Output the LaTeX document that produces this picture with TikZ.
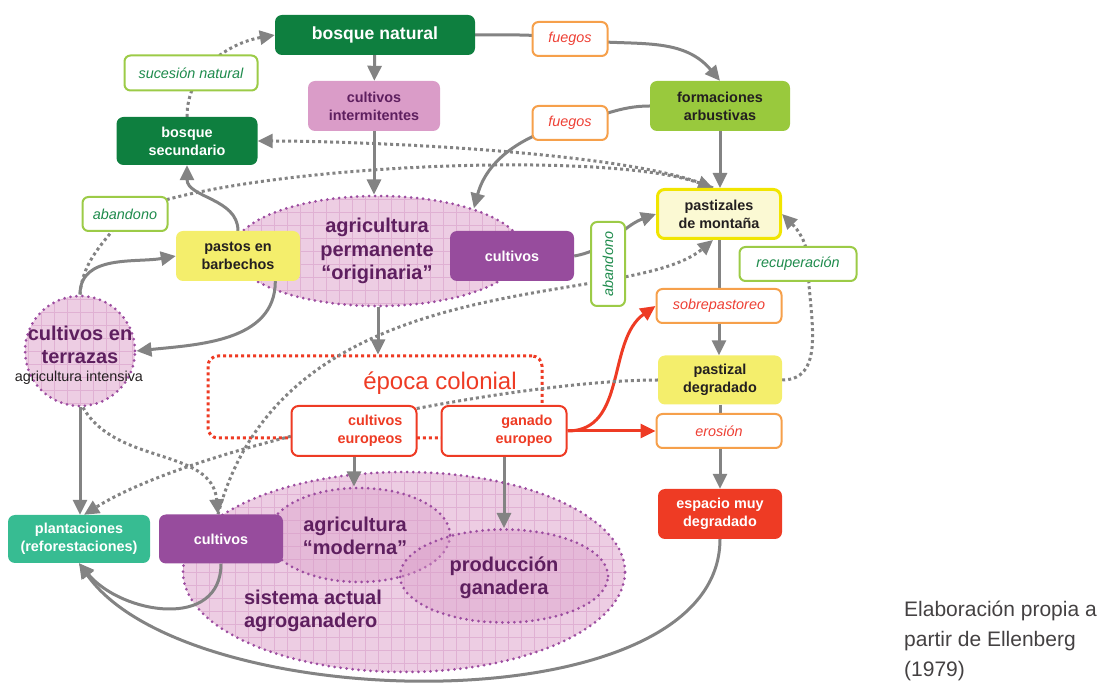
\documentclass[tikz,border=0pt]{standalone}
\usepackage{fontspec}
\setmainfont{Liberation Sans}
\usetikzlibrary{arrows.meta,positioning,shapes.geometric,calc}

\definecolor{forest}{HTML}{0E7F3F}
\definecolor{orchid}{HTML}{DA9CC8}
\definecolor{shrub}{HTML}{99C93D}
\definecolor{straw}{HTML}{F4EE6C}
\definecolor{paleyel}{HTML}{FBF9D3}
\definecolor{brightyel}{HTML}{F1E500}
\definecolor{grape}{HTML}{974C9D}
\definecolor{plum}{HTML}{5E1F5F}
\definecolor{teal2}{HTML}{37BC92}
\definecolor{fire}{HTML}{EE3B24}
\definecolor{amber}{HTML}{F6A04B}
\definecolor{leaf}{HTML}{9CCB47}
\definecolor{leaftext}{HTML}{1E8B4C}
\definecolor{flame}{HTML}{EE4035}
\definecolor{linkgray}{HTML}{838383}
\definecolor{zonefill}{HTML}{EDCDE3}
\definecolor{gridpink}{HTML}{E0B1D3}
\definecolor{zoneline}{HTML}{9C4CA0}
\definecolor{ink}{HTML}{231F20}

\newcommand{\lbl}{\fontsize{14.4pt}{18pt}\selectfont}
\newcommand{\zonefont}{\fontsize{20pt}{23.5pt}\selectfont\bfseries}

\pgfdeclarelayer{bg}
\pgfdeclarelayer{links}
\pgfsetlayers{bg,links,main}

\begin{document}
\begin{tikzpicture}[
    x=1pt, y=1pt,
    box/.style={rounded corners=7pt, minimum height=50pt,
                minimum width=124pt, align=center, inner sep=2pt,
                font=\lbl\bfseries},
    tag/.style={draw, line width=2pt, fill=white, rounded corners=6pt,
                minimum height=34pt, align=center, font=\lbl\itshape},
    firetag/.style={tag, draw=amber, text=flame},
    leaftag/.style={tag, draw=leaf, text=leaftext},
    euro/.style={draw=fire, line width=2pt, fill=white, rounded corners=7pt,
                 minimum height=50pt, text width=97pt, inner xsep=14pt,
                 align=right, text=fire, font=\lbl\bfseries},
    zone/.style={ellipse, draw=zoneline, line width=3pt,
                 dash pattern=on 0pt off 6pt, line cap=round, fill=zonefill,
                 path picture={\draw[gridpink, solid, line cap=butt,
                     line width=0.6pt, step=13pt]
                   (path picture bounding box.south west) grid
                   (path picture bounding box.north east);}},
    subzone/.style={ellipse, draw=zoneline, line width=3pt,
                    dash pattern=on 0pt off 6pt, line cap=round,
                    fill=orchid, fill opacity=0.4},
    zonetext/.style={align=center, text=plum, font=\zonefont},
    arrow/.style={-{Triangle[length=15pt, width=14pt]}, line width=3pt,
                  linkgray},
    dotarrow/.style={arrow, dash pattern=on 3pt off 3pt},
    redarrow/.style={arrow, fire},
  ]
  \useasboundingbox (0,0) rectangle (1104,-684);

  % Zones (ellipses) and colonial frame
  \begin{pgfonlayer}{bg}
    \node[zone, minimum width=290pt, minimum height=110pt] at (378,-251) (agri) {};
    \node[zone, circle, minimum size=110pt] at (80,-351) (terr) {};
    \node[zone, minimum width=442pt, minimum height=200pt] at (404,-572) (sist) {};
    \node[subzone, minimum width=182pt, minimum height=94pt] at (359,-535) (amod) {};
    \node[subzone, minimum width=208pt, minimum height=93pt] at (504,-576) (prod) {};
    \node[draw=fire, line width=3pt, dash pattern=on 3pt off 3pt,
          rounded corners=10pt, minimum width=334pt, minimum height=82pt]
      at (375,-397) (epoca) {};
  \end{pgfonlayer}

  % Zone texts
  \node[zonetext] at (377,-251) (agritxt) {agricultura\\permanente\\“originaria”};
  \node[zonetext] at (80,-345) (terrtxt) {cultivos en\\terrazas};
  \node[font=\lbl, text=ink] at (79,-378) (terrsub) {agricultura intensiva};
  \node[zonetext] at (355,-536) (amodtxt) {agricultura\\“moderna”};
  \node[zonetext] at (504,-578) (prodtxt) {producción\\ganadera};
  \node[zonetext, align=left] at (313,-611) (sisttxt) {sistema actual\\agroganadero};
  \node[text=fire, font=\fontsize{24pt}{28pt}\selectfont] at (440,-383)
    (epocatxt) {época colonial};

  % Row 0: forest
  \node[box, fill=forest, text=white, minimum width=200pt, minimum height=40pt,
        font=\fontsize{17.6pt}{20pt}\selectfont\bfseries] at (375,-35) (bnat)
    {bosque natural};
  \node[firetag, minimum width=75pt] at (570,-39) (fue1) {fuegos};
  \node[leaftag, minimum width=133pt, minimum height=35pt] at (191,-73) (sucn)
    {sucesión natural};

  % Row 1: shrubs and intermittent crops
  \node[box, fill=orchid, text=plum, minimum width=132pt] at (374,-106) (cint)
    {cultivos\\intermitentes};
  \node[box, fill=shrub, text=ink, minimum width=140pt] at (720,-106) (farb)
    {formaciones\\arbustivas};
  \node[firetag, minimum width=75pt] at (570,-123) (fue2) {fuegos};
  \node[box, fill=forest, text=white, minimum width=141pt, minimum height=48pt]
    at (187,-141) (bsec) {bosque\\secundario};

  % Row 2: grasslands and fallows
  \node[leaftag, minimum width=85pt] at (125,-214) (aban1) {abandono};
  \node[box, fill=paleyel, draw=brightyel, line width=3pt, text=ink,
        minimum width=123pt, minimum height=49pt] at (719,-214) (pmon)
    {pastizales\\de montaña};
  \node[box, fill=straw, text=ink] at (238,-256) (pbar) {pastos en\\barbechos};
  \node[box, fill=grape, text=white] at (512,-256) (cult1) {cultivos};
  \node[leaftag, minimum width=84pt, rotate=90] at (608,-264) (aban2) {abandono};
  \node[leaftag, minimum width=117pt] at (798,-264) (recu) {recuperación};

  % Row 3: degradation
  \node[firetag, minimum width=125pt] at (719,-306) (sobr) {sobrepastoreo};
  \node[box, fill=straw, text=ink, minimum height=49pt] at (720,-380) (pdeg)
    {pastizal\\degradado};
  \node[euro] at (354,-431) (ceur) {cultivos\\europeos};
  \node[euro] at (504,-431) (geur) {ganado\\europeo};
  \node[firetag, minimum width=125pt] at (719,-431) (eros) {erosión};
  \node[box, fill=fire, text=white] at (720,-514) (emd) {espacio muy\\degradado};

  % Row 4: current system
  \node[box, fill=teal2, text=white, minimum width=142pt, minimum height=48pt]
    at (79,-539) (plan) {plantaciones\\(reforestaciones)};
  \node[box, fill=grape, text=white, minimum height=49pt] at (221,-539) (cult2)
    {cultivos};

  % Source
  \node[anchor=west, align=left, inner sep=0pt, text=ink!85,
        font=\fontsize{21pt}{30pt}\selectfont] at (904,-641) (cite)
    {Elaboración propia a\\partir de Ellenberg\\(1979)};

  % Arrows
  \begin{pgfonlayer}{links}
    \draw[arrow] (bnat) -- (cint);
    \draw[arrow] (cint.south) -- (cint.south |- agri.north);
    \draw[arrow] (bnat.east) to[out=0, in=172] (fue1.center)
      to[out=-8, in=130] (farb.north);
    \draw[arrow] (farb.west) to[out=180, in=10] (fue2.center)
      to[out=-165, in=75] (agri.24);
    \draw[arrow] (farb.south) -- (farb.south |- pmon.north);
    \draw[arrow] (cult1.east) to[out=10, in=200] (pmon.west);
    \draw[arrow] (pmon.south) -- (pmon.south |- pdeg.north);
    \draw[arrow] (pdeg.south) -- (pdeg.south |- emd.north);
    \draw[dotarrow] (pdeg.east) to[out=0, in=-90] ($(recu.center)+(10,0)$)
      to[out=90, in=-45] (pmon.east);
    \draw[redarrow] (geur.east) to[out=0, in=215] (sobr.west);
    \draw[redarrow] (geur.east) -- (eros.west);
    \draw[arrow] (ceur.south) -- (ceur.south |- amod.north);
    \draw[arrow] (geur.south) -- (geur.south |- prod.north);
    \draw[arrow] (agri.south) -- (agri.south |- epoca.north);
    \draw[arrow] (emd.south) to[out=-90, in=-55, looseness=0.75] (plan.south);
    \draw[arrow] (cult2.south) to[out=-90, in=-50, looseness=1.2] (plan.south);
    \draw[arrow] (terr.south) -- (terr.south |- plan.north);
    \draw[arrow] (terr.north) to[out=90, in=190] (pbar.west);
    \draw[arrow] ($(pbar.south)!0.6!(pbar.south east)$) to[out=-90, in=6]
      (terr.east);
    \draw[arrow] (pbar.north) to[out=90, in=-90] (bsec.south);
    \draw[dotarrow] (bsec.north) to[out=90, in=190] (bnat.west);
    \draw[dotarrow] ($(pmon.north)+(-6,0)$) to[out=155, in=0, looseness=0.5]
      (bsec.east);
    \draw[dotarrow] (terr.north) to[out=85, in=235] (aban1.center)
      to[out=25, in=160, looseness=0.5] ($(pmon.north)+(-6,0)$);
    \draw[dotarrow] (pdeg.west) to[out=180, in=32, looseness=0.6]
      ($(plan.north)+(5,0)$);
    \draw[dotarrow] ($(terr.south)+(3,0)$) to[out=-60, in=95]
      ($(cult2.north)+(-3,0)$);
    \draw[dotarrow] ($(cult2.north)+(-3,0)$) to[out=75, in=220,
      out looseness=1.2, in looseness=0.5] ($(pmon.south)+(-6,0)$);
  \end{pgfonlayer}

\end{tikzpicture}
\end{document}
